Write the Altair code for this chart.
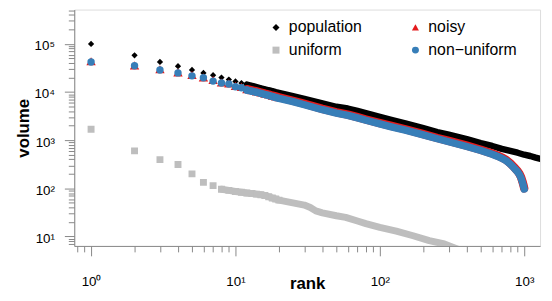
import altair as alt
import pandas as pd

# ---------------- data ----------------
series_names = ["population", "uniform", "noisy", "non\u2212uniform"]
series_colors = ["#000000", "#BEBEBE", "#E41A1C", "#377EB8"]
series_shapes = ["diamond", "square", "triangle-up", "circle"]

pop_rank = [1, 2, 3, 4, 5, 6, 7, 8, 9, 10, 11, 12, 13, 14, 15, 16, 17, 18, 19, 20,
            25, 30, 40, 50, 60, 70, 80, 100, 120, 150, 200, 250, 300, 400, 500,
            600, 700, 800, 900, 1000, 1100, 1200, 1300, 1400]
pop_vol = [100000, 57800, 42100, 34400, 28800, 25000, 22400, 20000, 18200, 16600,
           15400, 14300, 13500, 12700, 12000, 11400, 10900, 10500, 10000, 9650,
           8200, 7200, 5800, 4950, 4550, 4050, 3650, 3050, 2650, 2250, 1780, 1480,
           1300, 1050, 870, 760, 660, 600, 550, 500, 470, 435, 410, 385]

noisy_rank = [1, 2, 3, 4, 5, 6, 7, 8, 9, 10, 11, 12, 13, 14, 15, 16, 17, 18, 19, 20,
              25, 30, 40, 50, 60, 70, 80, 100, 120, 150, 200, 250, 300, 400, 500,
              600, 650, 700, 750, 800, 850, 900, 925, 950, 975, 990, 1000]
noisy_vol = [43500, 35800, 29800, 25600, 22600, 20200, 17800, 15800, 15100, 13400,
             12800, 11500, 10900, 10300, 9800, 9300, 8900, 8400, 8100, 7800,
             6600, 5700, 4480, 3800, 3400, 3020, 2700, 2270, 1980, 1690, 1340, 1110,
             970, 770, 635, 530, 485, 437, 390, 333, 276, 229, 203, 172, 135, 114, 100]

unif_rank = [1, 2, 3, 4, 5, 6, 7, 8, 9, 10, 11, 12, 13, 14, 15, 16, 17, 18, 19, 20,
             25, 30, 33, 36, 40, 50, 58, 70, 80, 100, 130, 170, 220, 280, 350, 450,
             600, 800, 1000]
unif_vol = [1690, 600, 396, 313, 200, 133, 114, 96, 91, 86, 83, 80, 78, 76, 74, 71,
            67, 63, 60, 57, 50, 45, 40, 34, 31, 27, 25, 21, 18.5, 15.5, 13, 10.4,
            8.2, 7.0, 5.4, 4.3, 3.6, 2.8, 2.2]

nonu_rank = [1, 2, 3, 4, 5, 6, 7, 8, 9, 10, 11, 12, 13, 14, 15, 16, 17, 18, 19, 20,
             25, 30, 40, 50, 60, 70, 80, 100, 120, 150, 200, 250, 300, 400, 500,
             600, 650, 700, 750, 800, 850, 900, 925, 950, 975, 990, 1000]
nonu_vol = [42100, 35300, 28800, 25000, 21700, 19800, 16900, 15400, 14700, 12900,
            12300, 11000, 10400, 9900, 9400, 8900, 8500, 8100, 7700, 7400,
            6350, 5450, 4300, 3650, 3270, 2900, 2600, 2180, 1900, 1620, 1290, 1070,
            930, 740, 610, 510, 465, 420, 375, 320, 265, 220, 195, 165, 130, 110, 97]

x_ticks = [0.8, 0.9] + [m * 10 ** e for e in range(0, 3) for m in range(1, 10)] + [1000]
y_ticks = [7, 8, 9] + [m * 10 ** e for e in range(1, 5) for m in range(1, 10)] + \
          [100000, 200000, 300000, 400000, 500000]

rows = []
for name, rk, vl in [("population", pop_rank, pop_vol),
                     ("uniform", unif_rank, unif_vol),
                     ("noisy", noisy_rank, noisy_vol),
                     ("non\u2212uniform", nonu_rank, nonu_vol)]:
    for r, v in zip(rk, vl):
        rows.append({"rank": r, "volume": v, "series": name})
df = pd.DataFrame(rows)

FONT = "Liberation Sans"

x_enc = alt.X(
    "rank:Q",
    scale=alt.Scale(type="log", domain=[0.7648, 1287], nice=False),
    axis=alt.Axis(
        values=x_ticks, grid=False, title="rank",
        labelExpr="datum.value == 1 ? '10\u2070' : datum.value == 10 ? '10\u00b9' : datum.value == 100 ? '10\u00b2' : datum.value == 1000 ? '10\u00b3' : ''",
        tickSize={"condition": {"test": "indexof([1,10,100,1000], datum.value) >= 0", "value": 10}, "value": 6},
        labelBaseline="alphabetic", labelPadding=30, labelFontSize=13.5, labelFont=FONT,
        labelColor="#000000", labelOverlap=False, labelFlush=False,
        titleFontSize=17, titleFontWeight="bold", titleFont=FONT,
        titleX=235.5, titleY=43.5, titleBaseline="alphabetic", titleAlign="center",
    ),
)
y_enc = alt.Y(
    "volume:Q",
    scale=alt.Scale(type="log", domain=[6.38, 516000], nice=False),
    axis=alt.Axis(
        values=y_ticks, grid=False, title="volume",
        labelExpr="datum.value == 10 ? '10\u00b9' : datum.value == 100 ? '10\u00b2' : datum.value == 1000 ? '10\u00b3' : datum.value == 10000 ? '10\u2074' : datum.value == 100000 ? '10\u2075' : ''",
        tickSize={"condition": {"test": "indexof([10,100,1000,10000,100000], datum.value) >= 0", "value": 10}, "value": 6},
        labelPadding=10, labelFontSize=13.5, labelFont=FONT, labelColor="#000000",
        labelOverlap=False, labelFlush=False, labelOffset=2,
        titleFontSize=17, titleFontWeight="bold", titleFont=FONT,
        titleX=-46.5, titleY=119.5, titleBaseline="alphabetic", titleAlign="center",
    ),
)

legend = alt.Legend(
    orient="none", legendX=196, legendY=10, columns=2, title=None,
    labelFontSize=16, labelFont=FONT, labelColor="#000000",
    symbolSize=50, symbolStrokeWidth=0, columnPadding=46, rowPadding=7,
    labelOffset=5, padding=0,
)
color_enc = alt.Color("series:N", scale=alt.Scale(domain=series_names, range=series_colors), legend=legend)
shape_enc = alt.Shape("series:N", scale=alt.Scale(domain=series_names, range=series_shapes), legend=legend)

base = alt.Chart(df)

def series_layers(name, color, size, width, line_from):
    ln = base.mark_line(color=color, strokeWidth=width, strokeCap="round",
                        strokeJoin="round", clip=True).encode(
        x=x_enc, y=y_enc, order="rank:Q"
    ).transform_filter(
        (alt.datum.series == name) & (alt.datum.rank >= line_from)
    )
    pt = base.mark_point(filled=True, opacity=1, size=size, clip=True).encode(
        x=x_enc, y=y_enc, color=color_enc, shape=shape_enc
    ).transform_filter(
        (alt.datum.series == name) & (alt.datum.rank <= 20)
    )
    return [ln, pt]

layers = []
layers += series_layers("population", "#000000", 40, 6.5, 12)
layers += series_layers("uniform", "#BEBEBE", 49, 7, 8)
layers += series_layers("noisy", "#E41A1C", 90, 8.5, 12)
layers += series_layers("non\u2212uniform", "#377EB8", 56, 7.5, 12)

chart = alt.layer(*layers).properties(
    width=471, height=239,
    autosize=alt.AutoSizeParams(type="none"),
    padding={"left": 67, "top": 0, "right": 4, "bottom": 46},
).configure_view(
    stroke="#777777", strokeWidth=1.5
).configure_axis(
    domainColor="#000000", domainWidth=1.5, tickColor="#000000", tickWidth=1
).configure(background="white")

chart.save("out.html", embed_options={"renderer": "svg", "actions": False})
